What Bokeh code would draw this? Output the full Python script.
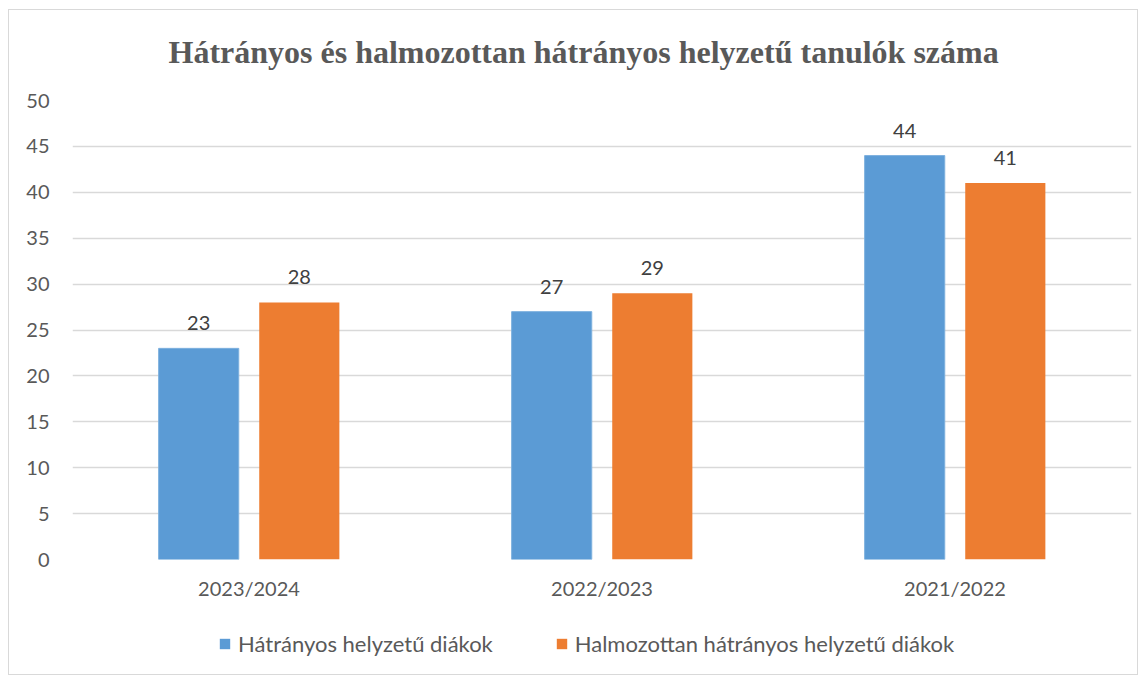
from bokeh.plotting import figure
from bokeh.layouts import column
from bokeh.models import (ColumnDataSource, FactorRange, Range1d, Legend, LegendItem,
                          LabelSet, Label, FixedTicker)
from bokeh.core.properties import value
from bokeh.transform import dodge
from bokeh.embed import file_html
from bokeh.resources import INLINE

# ---- data ----
categories = ["2023/2024", "2022/2023", "2021/2022"]
hatranyos = [23, 27, 44]
halmozottan = [28, 29, 41]
series_names = ["Hátrányos helyzetű diákok", "Halmozottan hátrányos helyzetű diákok"]
y_ticks = [0, 5, 10, 15, 20, 25, 30, 35, 40, 45, 50]
title_text = "Hátrányos és halmozottan hátrányos helyzetű tanulók száma"

BLUE = "#5B9BD5"
ORANGE = "#ED7D31"
TXT = "#595959"
GRID = "#D9D9D9"
FONT = "Lato"

src = ColumnDataSource(dict(
    cat=categories,
    a=hatranyos,
    b=halmozottan,
    a_lbl=[str(v) for v in hatranyos],
    b_lbl=[str(v) for v in halmozottan],
))

# ---- title strip ----
hf = figure(width=1128, height=76, x_range=Range1d(0, 1059), y_range=Range1d(0, 76),
            output_backend="svg", toolbar_location=None,
            x_axis_location=None, y_axis_location=None, min_border=0)
hf.outline_line_color = None
hf.grid.visible = False
hf.add_layout(Label(x=96, y=35, text=title_text, text_align="left",
                    text_baseline="alphabetic", text_font="Liberation Serif",
                    text_font_style="bold", text_font_size="32px", text_color=TXT))

# ---- main chart ----
p = figure(
    x_range=FactorRange(*categories),
    y_range=Range1d(0, 50),
    width=1128, height=522,
    output_backend="svg", toolbar_location=None,
    min_border_left=63, min_border_right=6, min_border_top=14, min_border_bottom=49,
)
p.outline_line_color = None

OFF = 0.1425
W = 0.227
r1 = p.vbar(x=dodge("cat", -OFF, range=p.x_range), top="a", width=W, source=src,
            fill_color=BLUE, line_color="#7DB0DE", line_width=1)
r2 = p.vbar(x=dodge("cat", OFF, range=p.x_range), top="b", width=W, source=src,
            fill_color=ORANGE, line_color=None)

for col, off in (("a", -OFF), ("b", OFF)):
    lab = LabelSet(x=dodge("cat", off, range=p.x_range), y=col, text=col + "_lbl", source=src,
                   text_align="center", text_baseline="bottom", y_offset=18,
                   text_font=value(FONT), text_font_size=value("20px"), text_color="#404040")
    p.add_layout(lab)

p.yaxis.ticker = FixedTicker(ticks=y_ticks)
p.yaxis.axis_line_color = None
p.yaxis.major_tick_line_color = None
p.yaxis.minor_tick_line_color = None
p.yaxis.major_label_standoff = 17
p.yaxis.major_label_text_font = FONT
p.yaxis.major_label_text_font_size = "20px"
p.yaxis.major_label_text_color = TXT

p.xaxis.axis_line_color = None
p.xaxis.major_tick_line_color = None
p.xaxis.major_label_standoff = 10
p.xaxis.major_label_text_font = FONT
p.xaxis.major_label_text_font_size = "20px"
p.xaxis.major_label_text_color = TXT

p.xgrid.grid_line_color = None
p.ygrid.grid_line_color = GRID
p.ygrid.grid_line_width = 1.5
p.ygrid.ticker = FixedTicker(ticks=y_ticks)

# ---- legend strip (its renderers lie outside its own view) ----
lf = figure(width=1128, height=66, x_range=Range1d(100, 101), y_range=Range1d(100, 101),
            output_backend="svg", toolbar_location=None,
            x_axis_location=None, y_axis_location=None, min_border=0)
lf.outline_line_color = None
lf.grid.visible = False
d1 = lf.vbar(x="a", top="a", width=0, source=src, fill_color=BLUE, line_color=None)
d2 = lf.vbar(x="b", top="b", width=0, source=src, fill_color=ORANGE, line_color=None)

legend = Legend(items=[LegendItem(label=series_names[0], renderers=[d1], index=0),
                       LegendItem(label=series_names[1], renderers=[d2], index=0)],
                orientation="horizontal", location=(146, 17),
                glyph_width=13, glyph_height=13, label_standoff=7, spacing=62,
                label_text_font=FONT, label_text_font_size="22px", label_text_color=TXT,
                border_line_color=None, background_fill_alpha=0, margin=0, padding=6)
lf.add_layout(legend)

layout = column(hf, p, lf, spacing=0, margin=(9, 0, 0, 8),
                styles={"border": "1px solid #D9D9D9"})
open("out.html", "w").write(file_html(layout, INLINE))
